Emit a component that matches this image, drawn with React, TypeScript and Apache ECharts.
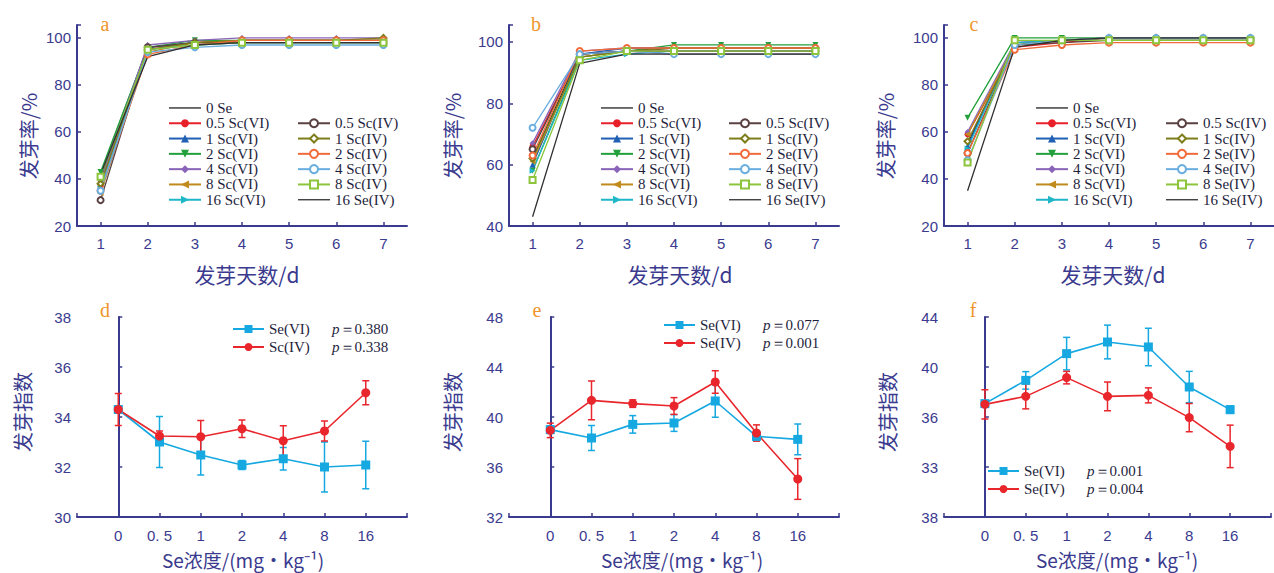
import React, { useEffect, useRef } from 'react';
import * as echarts from 'echarts';

// ---------- data ----------
const days = ['1', '2', '3', '4', '5', '6', '7'];

const namesA = ['0 Se', '0.5 Sc(VI)', '1 Sc(VI)', '2 Sc(VI)', '4 Sc(VI)', '8 Sc(VI)', '16 Sc(VI)',
  '0.5 Sc(IV)', '1 Sc(IV)', '2 Sc(IV)', '4 Sc(IV)', '8 Sc(IV)', '16 Se(IV)'];
const namesB = ['0 Se', '0.5 Sc(VI)', '1 Sc(VI)', '2 Sc(VI)', '4 Sc(VI)', '8 Sc(VI)', '16 Sc(VI)',
  '0.5 Sc(IV)', '1 Sc(IV)', '2 Se(IV)', '4 Se(IV)', '8 Se(IV)', '16 Se(IV)'];
const namesC = ['0 Se', '0.5 Sc(VI)', '1 Sc(VI)', '2 Sc(VI)', '4 Sc(VI)', '8 Sc(VI)', '16 Sc(VI)',
  '0.5 Sc(IV)', '1 Sc(IV)', '2 Se(IV)', '4 Se(IV)', '8 Se(IV)', '16 Se(IV)'];

// germination rate (%) by day, one row per treatment (same order as names)
const rateA = [
  [40, 96, 98, 99, 99, 99, 99],
  [37, 95, 98, 99, 99, 99, 99],
  [42, 96, 98, 98, 98, 98, 98],
  [43, 96, 99, 99, 99, 99, 99],
  [39, 97, 99, 100, 100, 100, 100],
  [34, 94, 98, 99, 99, 99, 99],
  [36, 95, 97, 98, 98, 98, 98],
  [31, 96, 98, 98, 98, 98, 98],
  [38, 95, 98, 99, 99, 99, 100],
  [35, 93, 97, 99, 99, 99, 99],
  [35, 94, 96, 97, 97, 97, 97],
  [41, 95, 97, 98, 98, 98, 98],
  [42, 92, 97, 98, 98, 98, 98],
];
const rateB = [
  [62, 96, 97, 98, 98, 98, 98],
  [66, 96, 97, 96, 96, 96, 96],
  [60, 96, 98, 98, 98, 98, 98],
  [58, 95, 97, 99, 99, 99, 99],
  [67, 97, 98, 98, 98, 98, 98],
  [61, 95, 97, 97, 97, 97, 97],
  [58, 94, 96, 97, 97, 97, 97],
  [65, 96, 97, 97, 97, 97, 97],
  [62, 95, 97, 98, 98, 98, 98],
  [63, 97, 98, 98, 98, 98, 98],
  [72, 96, 97, 96, 96, 96, 96],
  [55, 94, 97, 97, 97, 97, 97],
  [43, 93, 96, 96, 96, 96, 96],
];
const rateC = [
  [55, 97, 99, 100, 100, 100, 100],
  [59, 96, 98, 100, 100, 100, 100],
  [54, 98, 99, 100, 100, 100, 100],
  [66, 100, 100, 100, 100, 100, 100],
  [60, 98, 99, 100, 100, 100, 100],
  [59, 97, 99, 99, 99, 99, 99],
  [53, 98, 99, 99, 99, 99, 99],
  [51, 97, 98, 99, 99, 99, 99],
  [56, 97, 99, 100, 100, 100, 100],
  [51, 95, 97, 98, 98, 98, 98],
  [48, 97, 99, 100, 100, 100, 100],
  [47, 99, 99, 99, 99, 99, 99],
  [35, 96, 99, 100, 100, 100, 100],
];

const concLabels = ['0', '0. 5', '1', '2', '4', '8', '16'];

const dVI = [34.3, 33.0, 32.48, 32.08, 32.33, 32.0, 32.08];
const dVIerr = [0.15, 1.02, 0.8, 0.18, 0.45, 1.0, 0.95];
const dIV = [34.3, 33.24, 33.21, 33.53, 33.05, 33.44, 34.97];
const dIVerr = [0.64, 0.2, 0.65, 0.35, 0.6, 0.4, 0.48];

const eVI = [38.99, 38.32, 39.41, 39.52, 41.28, 38.45, 38.21];
const eVIerr = [0.3, 1.0, 0.7, 0.67, 1.3, 0.35, 1.23];
const eIV = [38.93, 41.33, 41.07, 40.88, 42.8, 38.72, 35.04];
const eIVerr = [0.58, 1.55, 0.3, 0.67, 0.9, 0.65, 1.63];

const fVI = [37.07, 38.93, 41.07, 42.0, 41.6, 38.4, 36.59];
const fVIerr = [0.15, 0.7, 1.3, 1.35, 1.5, 1.25, 0.3];
const fIV = [37.01, 37.65, 39.15, 37.65, 37.73, 35.95, 33.65];
const fIVerr = [1.17, 1.0, 0.5, 1.15, 0.6, 1.13, 1.7];

const fTickValues = [28, 32, 36, 40, 44];
const fTickLabels = ['38', '33', '36', '40', '44'];

const pD = ['0.380', '0.338'];
const pE = ['0.077', '0.001'];
const pF = ['0.001', '0.004'];
const legD = ['Se(VI)', 'Sc(IV)'];
const legE = ['Se(VI)', 'Se(IV)'];
const legF = ['Se(VI)', 'Se(IV)'];

// ---------- styles ----------
const AX = '#3a3a8e';
const TXT = '#1e1e3c';
const CYAN = '#16a8e0';
const RED = '#e8262c';
const LINE_ICON = 'path://M0,0 L32,0 L32,1.3 L0,1.3 Z';

const lineStyles = [
  { color: '#222222', symbol: 'none', rotate: 0 },
  { color: '#e8202a', symbol: 'circle', rotate: 0 },
  { color: '#1f5fb4', symbol: 'triangle', rotate: 0 },
  { color: '#22a03c', symbol: 'triangle', rotate: 180 },
  { color: '#8a64b8', symbol: 'diamond', rotate: 0 },
  { color: '#c08a1c', symbol: 'triangle', rotate: 90 },
  { color: '#1fb6c8', symbol: 'triangle', rotate: -90 },
  { color: '#5a4040', symbol: 'emptyCircle', rotate: 0 },
  { color: '#7d7d1a', symbol: 'emptyDiamond', rotate: 0 },
  { color: '#f06a3a', symbol: 'emptyCircle', rotate: 0 },
  { color: '#6aaee0', symbol: 'emptyCircle', rotate: 0 },
  { color: '#8cc43c', symbol: 'emptyRect', rotate: 0 },
  { color: '#303030', symbol: 'none', rotate: 0 },
];

const axisLine = { show: true, lineStyle: { color: AX, width: 2 } };
const axisTick = { show: true, inside: true, length: 4, lineStyle: { color: AX, width: 1.5 } };
const tickFont = { color: AX, fontSize: 15, fontFamily: 'Liberation Sans, Arial, sans-serif' };

function buildOption() {
  const grids: any[] = [];
  const xAxes: any[] = [];
  const yAxes: any[] = [];
  const series: any[] = [];
  const legends: any[] = [];
  const graphics: any[] = [];

  // top panels
  const tops = [
    { key: 'a', left: 77, yMin: 20, names: namesA, data: rateA, legL: 168, legR: 297, letterX: 105, titleX: 28, xTitle: 247 },
    { key: 'b', left: 509, yMin: 40, names: namesB, data: rateB, legL: 600, legR: 728, letterX: 536, titleX: 452, xTitle: 680 },
    { key: 'c', left: 944, yMin: 20, names: namesC, data: rateC, legL: 1035, legR: 1165, letterX: 974, titleX: 885, xTitle: 1113 },
  ];
  tops.forEach((p, gi) => {
    grids.push({ left: p.left, top: 25, width: 330, height: 201 });
    xAxes.push({
      gridIndex: gi, type: 'category', data: days, boundaryGap: true,
      axisLine, axisTick: { ...axisTick, alignWithLabel: true },
      axisLabel: { ...tickFont, margin: 10 }, splitLine: { show: false },
    });
    yAxes.push({
      gridIndex: gi, type: 'value', min: p.yMin, max: 105.5, interval: 20,
      axisLine, axisTick, splitLine: { show: false },
      axisLabel: { ...tickFont, margin: 6, formatter: (v: number) => (v % 20 === 0 ? String(v) : '') },
    });
    p.names.forEach((n, i) => {
      const st = lineStyles[i];
      series.push({
        type: 'line', name: p.key + ':' + n, xAxisIndex: gi, yAxisIndex: gi,
        data: p.data[i], symbol: st.symbol, symbolRotate: st.rotate, symbolSize: 6,
        lineStyle: { color: st.color, width: 1.3 }, itemStyle: { color: st.color },
        z: 2,
      });
    });
    const fmt = (name: string) => name.slice(2);
    const legItem = (n: string, i: number) =>
      lineStyles[i].symbol === 'none'
        ? { name: p.key + ':' + n, icon: LINE_ICON, itemStyle: { color: lineStyles[i].color } }
        : { name: p.key + ':' + n };
    const legBase = {
      orient: 'vertical', itemWidth: 32, itemHeight: 10, itemGap: 0, padding: 0,
      textStyle: { fontFamily: 'Liberation Serif, Times New Roman, serif', fontSize: 15, color: TXT, lineHeight: 15.3 },
      formatter: fmt, selectedMode: false,
    };
    legends.push({ ...legBase, left: p.legL, top: 100.3, data: p.names.slice(0, 7).map((n, i) => legItem(n, i)) });
    legends.push({ ...legBase, left: p.legR, top: 115.6, data: p.names.slice(7).map((n, i) => legItem(n, i + 7)) });
    graphics.push({ type: 'text', x: p.letterX, y: 24, style: { text: p.key, fill: '#f0962c', fontSize: 20, fontFamily: 'Liberation Serif, serif', align: 'center', verticalAlign: 'middle' } });
    graphics.push({ type: 'text', x: p.titleX, y: 136, rotation: Math.PI / 2, style: { text: '发芽率/%', fill: AX, fontSize: 20, fontFamily: 'Noto Sans CJK SC', align: 'center', verticalAlign: 'middle' } });
    graphics.push({ type: 'text', x: p.xTitle, y: 274, style: { text: '发芽天数/d', fill: AX, fontSize: 21, fontFamily: 'Noto Sans CJK SC', align: 'center', verticalAlign: 'middle' } });
  });

  // bottom panels
  const bots = [
    { key: 'd', left: 77, yMin: 30, yMax: 38, interval: 2, vi: dVI, viE: dVIerr, iv: dIV, ivE: dIVerr, leg: legD, p: pD, legX: 232, legY: 320, letterX: 105, titleX: 22, xTitle: 243, relabel: false },
    { key: 'e', left: 509, yMin: 32, yMax: 48, interval: 4, vi: eVI, viE: eVIerr, iv: eIV, ivE: eIVerr, leg: legE, p: pE, legX: 663, legY: 316, letterX: 537, titleX: 452, xTitle: 682, relabel: false },
    { key: 'f', left: 944, yMin: 28, yMax: 44, interval: 4, vi: fVI, viE: fVIerr, iv: fIV, ivE: fIVerr, leg: legF, p: pF, legX: 987, legY: 462, letterX: 973, titleX: 887, xTitle: 1117, relabel: true },
  ];
  bots.forEach((p, k) => {
    const gi = k + 3;
    grids.push({ left: p.left, top: 317, width: 330, height: 200 });
    xAxes.push({
      gridIndex: gi, type: 'value', min: -1, max: 7, interval: 1,
      axisLine, axisTick, splitLine: { show: false },
      axisLabel: { ...tickFont, margin: 11, formatter: (v: number) => concLabels[v] ?? '' },
    });
    yAxes.push({
      gridIndex: gi, type: 'value', min: p.yMin, max: p.yMax, interval: p.interval,
      axisLine, axisTick, splitLine: { show: false },
      axisLabel: {
        ...tickFont, margin: 6,
        formatter: (v: number) => {
          if (!p.relabel) return String(v);
          const idx = fTickValues.indexOf(v);
          return idx >= 0 ? fTickLabels[idx] : '';
        },
      },
    });
    const groups = [
      { name: p.leg[0], m: p.vi, e: p.viE, color: CYAN, symbol: 'rect', pv: p.p[0] },
      { name: p.leg[1], m: p.iv, e: p.ivE, color: RED, symbol: 'circle', pv: p.p[1] },
    ];
    groups.forEach((g) => {
      series.push({
        type: 'custom', xAxisIndex: gi, yAxisIndex: gi, z: 1, silent: true,
        encode: { x: 0, y: [1, 2] },
        data: g.m.map((m, i) => [i, m - g.e[i], m + g.e[i]]),
        renderItem: (params: any, api: any) => {
          const x = api.value(0);
          const lo = api.coord([x, api.value(1)]);
          const hi = api.coord([x, api.value(2)]);
          const w = 3.5;
          const st = { stroke: g.color, lineWidth: 1.5 };
          return {
            type: 'group',
            children: [
              { type: 'line', shape: { x1: lo[0], y1: lo[1], x2: hi[0], y2: hi[1] }, style: st },
              { type: 'line', shape: { x1: lo[0] - w, y1: lo[1], x2: lo[0] + w, y2: lo[1] }, style: st },
              { type: 'line', shape: { x1: hi[0] - w, y1: hi[1], x2: hi[0] + w, y2: hi[1] }, style: st },
            ],
          };
        },
      });
      series.push({
        type: 'line', name: p.key + ':' + g.name, xAxisIndex: gi, yAxisIndex: gi, z: 3,
        data: g.m.map((m, i) => [i, m]), symbol: g.symbol, symbolSize: 9,
        lineStyle: { color: g.color, width: 1.6 }, itemStyle: { color: g.color },
      });
    });
    const pMap: Record<string, string> = {};
    groups.forEach((g) => { pMap[p.key + ':' + g.name] = g.pv; });
    legends.push({
      orient: 'vertical', left: p.legX, top: p.legY, itemWidth: 31, itemHeight: 10, itemGap: 0, padding: 0,
      selectedMode: false,
      data: groups.map((g) => p.key + ':' + g.name),
      formatter: (name: string) => `{n|${name.slice(2)}}{i|p}{v|＝${pMap[name]}}`,
      textStyle: {
        fontFamily: 'Liberation Serif, serif', fontSize: 15, color: TXT, lineHeight: 18,
        rich: {
          n: { width: 63, fontFamily: 'Liberation Serif, serif', fontSize: 15, color: TXT },
          i: { fontStyle: 'italic', fontFamily: 'Liberation Serif, serif', fontSize: 15, color: TXT },
          v: { fontFamily: 'Liberation Serif, serif', fontSize: 15, color: TXT },
        },
      },
    });
    graphics.push({ type: 'text', x: p.letterX, y: 310, style: { text: p.key, fill: '#f0962c', fontSize: 20, fontFamily: 'Liberation Serif, serif', align: 'center', verticalAlign: 'middle' } });
    graphics.push({ type: 'text', x: p.titleX, y: 412, rotation: Math.PI / 2, style: { text: '发芽指数', fill: AX, fontSize: 20, fontFamily: 'Noto Sans CJK SC', align: 'center', verticalAlign: 'middle' } });
    graphics.push({ type: 'text', x: p.xTitle, y: 559, style: { text: 'Se浓度/(mg·kg⁻¹)', fill: AX, fontSize: 19, fontFamily: 'Noto Sans CJK SC', align: 'center', verticalAlign: 'middle' } });
  });

  return {
    animation: false,
    backgroundColor: '#ffffff',
    grid: grids,
    xAxis: xAxes,
    yAxis: yAxes,
    legend: legends,
    series,
    graphic: graphics,
  };
}

export default function App() {
  const ref = useRef<HTMLDivElement>(null);
  useEffect(() => {
    if (!ref.current) return;
    const chart = echarts.init(ref.current, undefined, { renderer: 'svg' });
    chart.setOption(buildOption() as any);
    return () => chart.dispose();
  }, []);
  return (
    <div
      ref={ref}
      style={{ position: 'fixed', left: 0, top: 0, width: 1274, height: 573, background: '#fff' }}
    />
  );
}
